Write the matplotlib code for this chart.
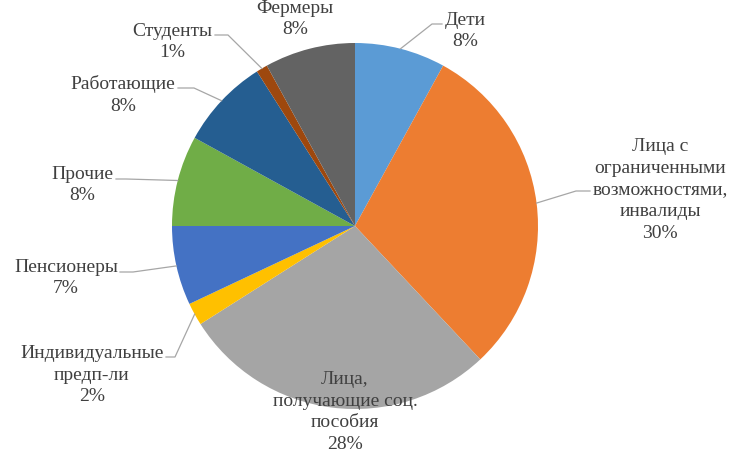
import numpy as np
import matplotlib
matplotlib.use('Agg')
import matplotlib.pyplot as plt

W, H = 739, 453

# data
groups = ['Дети', 'Лица с\nограниченными\nвозможностями,\nинвалиды',
          'Лица,\nполучающие соц.\nпособия', 'Индивидуальные\nпредп-ли',
          'Пенсионеры', 'Прочие', 'Работающие', 'Студенты', 'Фермеры']
shares = [8, 30, 28, 2, 7, 8, 8, 1, 8]
colors = ['#5B9BD5', '#ED7D31', '#A5A5A5', '#FFC000', '#4472C4',
          '#70AD47', '#255E91', '#9E480E', '#636363']

# label placement in pixels (x, y from top), and leader line start/elbow (None = no line)
label_pos = [(465, 31), (660, 190), (345, 412), (92, 375), (66, 278),
             (82, 185), (123, 95), (172, 42), (295, 19)]
leaders = [[(442, 24), (432, 24)], [(590, 191), (576, 191)], None,
           [(166, 357), (175, 357)], [(120, 272), (133, 272)],
           [(116, 179), (126, 179)], [(178, 88), (194, 88)],
           [(215, 35), (228, 35)], None]

cx, cy, r = 355, 226, 183


def px(x, y):
    return x, H - y


plt.rcParams['font.family'] = ['Liberation Serif', 'DejaVu Serif']

fig = plt.figure(figsize=(W / 100, H / 100), dpi=100)
ax = fig.add_axes([0, 0, 1, 1])

ax.pie(shares, colors=colors, startangle=90, counterclock=False,
       center=px(cx, cy), radius=r, wedgeprops={'linewidth': 0})

ax.set_xlim(0, W)
ax.set_ylim(0, H)
ax.set_aspect('equal')
ax.axis('off')

total = sum(shares)
cum = np.cumsum([0] + shares[:-1])
for i, (name, val) in enumerate(zip(groups, shares)):
    mid = np.deg2rad(90 - 360 * (cum[i] + val / 2) / total)
    ex, ey = cx + r * np.cos(mid), cy - r * np.sin(mid)
    lx, ly = label_pos[i]
    ax.text(*px(lx, ly), f'{name}\n{val}%', ha='center', va='center',
            fontsize=14, color='#404040', linespacing=1.36)
    if leaders[i] is not None:
        pts = leaders[i] + [(ex, ey)]
        xs = [p[0] for p in pts]
        ys = [H - p[1] for p in pts]
        ax.plot(xs, ys, color='#A6A6A6', lw=0.9)

plt.savefig('out.png', dpi=100)
